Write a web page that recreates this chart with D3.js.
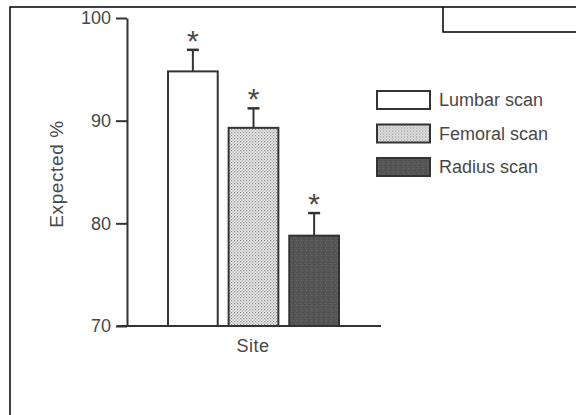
<!DOCTYPE html>
<html>
<head>
<meta charset="utf-8">
<script src="https://cdn.jsdelivr.net/npm/d3@7"></script>
<style>
  body { margin: 0; background: #fff; }
  text { font-family: "Liberation Sans", Arial, sans-serif; fill: #484848; }
</style>
</head>
<body>
<div id="chart"></div>
<script>
const categories = ['Lumbar scan', 'Femoral scan', 'Radius scan'];
const means = [94.8, 89.3, 78.8];
const errors = [2.1, 1.9, 2.2];
const yTicks = [70, 80, 90, 100];

const width = 576;
const height = 415;
const ink = '#333';

const svg = d3.select('#chart')
    .append('svg')
    .attr('width', width)
    .attr('height', height);

const defs = svg.append('defs');

// stippled fill for the femoral bar
const dots = defs.append('pattern')
    .attr('id', 'dots')
    .attr('width', 3)
    .attr('height', 3)
    .attr('patternUnits', 'userSpaceOnUse');
dots.append('rect').attr('width', 3).attr('height', 3).attr('fill', '#ececec');
dots.append('rect').attr('x', 0).attr('y', 0).attr('width', 1.2).attr('height', 1.2).attr('fill', '#8a8a8a');
dots.append('rect').attr('x', 1.5).attr('y', 1.5).attr('width', 1.2).attr('height', 1.2).attr('fill', '#9a9a9a');

// grainy dark fill for the radius bar
const grain = defs.append('pattern')
    .attr('id', 'grain')
    .attr('width', 5)
    .attr('height', 5)
    .attr('patternUnits', 'userSpaceOnUse');
grain.append('rect').attr('width', 5).attr('height', 5).attr('fill', '#555');
grain.append('rect').attr('x', 1).attr('y', 0).attr('width', 1).attr('height', 1).attr('fill', '#686868');
grain.append('rect').attr('x', 3).attr('y', 2).attr('width', 1).attr('height', 1).attr('fill', '#474747');
grain.append('rect').attr('x', 0).attr('y', 3).attr('width', 1).attr('height', 1).attr('fill', '#626262');
grain.append('rect').attr('x', 4).attr('y', 4).attr('width', 1).attr('height', 1).attr('fill', '#4a4a4a');

const fills = ['#fff', 'url(#dots)', 'url(#grain)'];

// page frame
svg.append('path')
    .attr('d', `M10,${height} L10,7 L${width},7`)
    .attr('fill', 'none')
    .attr('stroke', '#000')
    .attr('stroke-width', 1.5);
svg.append('path')
    .attr('d', `M${width},32 L443,32 L443,7`)
    .attr('fill', 'none')
    .attr('stroke', '#000')
    .attr('stroke-width', 1.5);

const y = d3.scaleLinear()
    .domain([70, 100])
    .range([326, 18]);

const x = d3.scaleBand()
    .domain(categories)
    .range([168, 339])
    .paddingInner(0.18)
    .paddingOuter(0);

// y axis
const yAxis = svg.append('g')
    .attr('transform', 'translate(127,0)')
    .call(d3.axisLeft(y).tickValues(yTicks).tickSize(11).tickSizeOuter(0).tickPadding(5));
yAxis.select('.domain').attr('stroke', ink).attr('stroke-width', 2);
yAxis.selectAll('.tick line').attr('stroke', ink).attr('stroke-width', 2);
yAxis.selectAll('.tick text')
    .attr('font-size', 18)
    .attr('fill', '#484848')
    .style('font-family', '"Liberation Sans", Arial, sans-serif');

// baseline
svg.append('line')
    .attr('x1', 117)
    .attr('x2', 381)
    .attr('y1', y(70))
    .attr('y2', y(70))
    .attr('stroke', ink)
    .attr('stroke-width', 2);

// error bars (upper only)
const bars = svg.selectAll('.bar')
    .data(categories)
    .enter()
    .append('g')
    .attr('class', 'bar');

bars.append('line')
    .attr('x1', d => x(d) + x.bandwidth() / 2)
    .attr('x2', d => x(d) + x.bandwidth() / 2)
    .attr('y1', (d, i) => y(means[i]))
    .attr('y2', (d, i) => y(means[i] + errors[i]))
    .attr('stroke', ink)
    .attr('stroke-width', 2);

bars.append('line')
    .attr('x1', d => x(d) + x.bandwidth() / 2 - 6)
    .attr('x2', d => x(d) + x.bandwidth() / 2 + 6)
    .attr('y1', (d, i) => y(means[i] + errors[i]))
    .attr('y2', (d, i) => y(means[i] + errors[i]))
    .attr('stroke', ink)
    .attr('stroke-width', 2.5);

bars.append('rect')
    .attr('x', d => x(d))
    .attr('y', (d, i) => y(means[i]))
    .attr('width', x.bandwidth())
    .attr('height', (d, i) => y(70) - y(means[i]))
    .attr('fill', (d, i) => fills[i])
    .attr('stroke', ink)
    .attr('stroke-width', 2);

bars.append('text')
    .attr('x', d => x(d) + x.bandwidth() / 2)
    .attr('y', (d, i) => y(means[i] + errors[i]) + 1)
    .attr('text-anchor', 'middle')
    .attr('font-size', 30)
    .attr('fill', ink)
    .text('*');

// axis titles
svg.append('text')
    .attr('x', 253)
    .attr('y', 352)
    .attr('text-anchor', 'middle')
    .attr('font-size', 18)
    .attr('letter-spacing', 0.5)
    .text('Site');

svg.append('text')
    .attr('transform', 'translate(63,174) rotate(-90)')
    .attr('text-anchor', 'middle')
    .attr('font-size', 19)
    .attr('letter-spacing', 0.6)
    .text('Expected %');

// legend
const legend = svg.append('g')
    .attr('transform', 'translate(377,91)');

const legendItem = legend.selectAll('g')
    .data(categories)
    .enter()
    .append('g')
    .attr('transform', (d, i) => `translate(0, ${i * 33.5})`);

legendItem.append('rect')
    .attr('width', 53)
    .attr('height', 18)
    .attr('fill', (d, i) => fills[i])
    .attr('stroke', ink)
    .attr('stroke-width', 2);

legendItem.append('text')
    .attr('x', 62)
    .attr('y', 9)
    .attr('dy', '0.35em')
    .attr('font-size', 18)
    .text(d => d);
</script>
</body>
</html>
